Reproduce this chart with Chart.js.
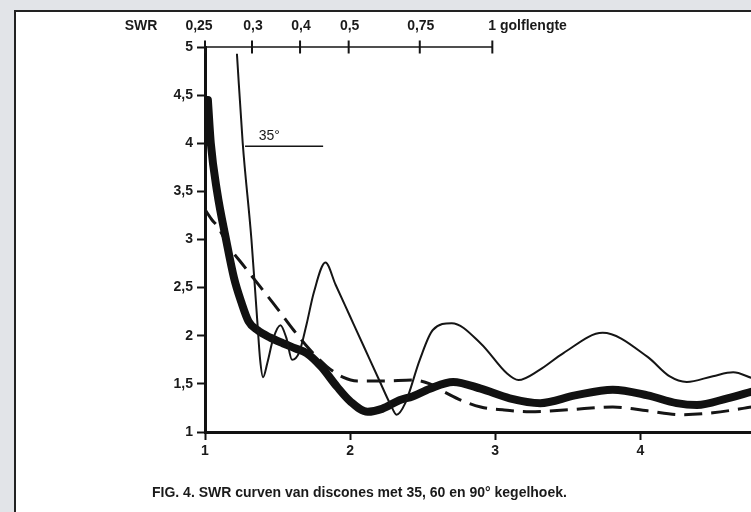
<!DOCTYPE html>
<html>
<head>
<meta charset="utf-8">
<script src="https://cdn.jsdelivr.net/npm/chart.js@4/dist/chart.umd.min.js"></script>
<style>
  body { margin: 0; background: #e2e4e8; overflow: hidden; }
  #frame {
    position: absolute; left: 14px; top: 10px; width: 800px; height: 600px;
    background: #fff; border-left: 2px solid #222; border-top: 2px solid #222;
  }
  #swrChart { position: absolute; left: 0; top: 0; }
</style>
</head>
<body>
<div id="frame"></div>
<canvas id="swrChart" width="760" height="512"></canvas>
<script>
// SWR curves, points are [x, swr]
const swr35 = [
  [1.22, 4.93], [1.26, 4.0], [1.32, 3.0], [1.36, 2.16], [1.38, 1.75], [1.40, 1.57],
  [1.43, 1.72], [1.47, 1.97], [1.52, 2.11], [1.56, 1.98], [1.60, 1.75], [1.65, 1.83],
  [1.70, 2.12], [1.75, 2.45], [1.83, 2.76], [1.9, 2.53], [2.0, 2.2], [2.1, 1.87],
  [2.2, 1.54], [2.28, 1.28], [2.32, 1.18], [2.38, 1.3], [2.48, 1.75], [2.57, 2.06],
  [2.70, 2.13], [2.9, 1.92], [3.08, 1.61], [3.16, 1.54], [3.3, 1.64], [3.47, 1.82],
  [3.74, 2.03], [4.05, 1.78], [4.2, 1.58], [4.32, 1.52], [4.5, 1.58], [4.64, 1.62],
  [4.77, 1.56]
];
const swr60 = [
  [1.02, 4.45], [1.04, 4.0], [1.083, 3.5], [1.145, 3.0], [1.2, 2.6], [1.25, 2.35],
  [1.3, 2.15], [1.36, 2.06], [1.45, 1.98], [1.54, 1.92], [1.62, 1.87], [1.70, 1.82],
  [1.8, 1.68], [1.91, 1.47], [2.0, 1.32], [2.12, 1.21], [2.22, 1.24], [2.34, 1.33],
  [2.43, 1.37], [2.55, 1.45], [2.71, 1.52], [2.9, 1.45], [3.1, 1.35], [3.31, 1.30],
  [3.55, 1.38], [3.81, 1.44], [4.05, 1.38], [4.25, 1.3], [4.39, 1.28], [4.6, 1.35],
  [4.77, 1.42]
];
const swr90 = [
  [1.0, 3.31], [1.05, 3.2], [1.09, 3.13], [1.15, 2.96], [1.27, 2.72], [1.38, 2.51],
  [1.5, 2.28], [1.61, 2.06], [1.72, 1.86], [1.84, 1.68], [1.95, 1.57], [2.05, 1.53],
  [2.23, 1.53], [2.43, 1.54], [2.55, 1.5], [2.62, 1.44], [2.75, 1.34], [2.9, 1.26],
  [3.05, 1.23], [3.24, 1.21], [3.5, 1.23], [3.81, 1.26], [4.05, 1.22], [4.28, 1.18],
  [4.5, 1.2], [4.77, 1.26]
];

// axis ticks
const xTicks = [1, 2, 3, 4];
const yTicks = [1, 1.5, 2, 2.5, 3, 3.5, 4, 4.5, 5];

// wavelength scale on top (positions in x units)
const waveTickPos = [1.0, 1.324, 1.655, 1.99, 2.48, 2.98];
const waveTickLabels = ["0,25", "0,3", "0,4", "0,5", "0,75", "1 golflengte"];

// "35°" marker line
const label35Line = [[1.276, 3.97], [1.814, 3.97]];

const caption = "FIG. 4. SWR curven van discones met 35, 60 en 90° kegelhoek.";
const FONT = "'Liberation Sans', Arial, sans-serif";

function toPoints(arr) {
  return arr.map(p => ({ x: p[0], y: p[1] }));
}

// extra texts: SWR, wavelength labels, 35 degrees, caption
const textPlugin = {
  id: "texts",
  afterDraw(chart) {
    const ctx = chart.ctx;
    const xs = chart.scales.x;
    const ys = chart.scales.y;
    ctx.save();
    ctx.fillStyle = "#1a1a1a";
    ctx.textBaseline = "middle";
    ctx.font = "bold 14px " + FONT;
    ctx.textAlign = "center";
    ctx.fillText("SWR", 141, 26);
    waveTickPos.forEach((v, i) => {
      const px = xs.getPixelForValue(v);
      if (i === waveTickPos.length - 1) {
        ctx.textAlign = "left";
        ctx.fillText(waveTickLabels[i], px - 4, 26);
      } else {
        ctx.textAlign = "center";
        ctx.fillText(waveTickLabels[i], i === 0 ? px - 6 : px + 1, 26);
      }
    });
    ctx.font = "14px " + FONT;
    ctx.textAlign = "left";
    ctx.fillText("35°", xs.getPixelForValue(1.37), ys.getPixelForValue(4.07));
    ctx.font = "bold 14px " + FONT;
    ctx.fillText(caption, 152, 493);
    ctx.restore();
  }
};

const ctx = document.getElementById("swrChart");

// eslint-disable-next-line no-unused-vars
const swrChart = new Chart(ctx, {
  type: "line",
  data: {
    datasets: [
      {
        label: "35°",
        data: toPoints(swr35),
        borderColor: "#151515",
        borderWidth: 2,
        pointRadius: 0,
        cubicInterpolationMode: "monotone"
      },
      {
        label: "60°",
        data: toPoints(swr60),
        borderColor: "#111",
        borderWidth: 8,
        borderCapStyle: "round",
        borderJoinStyle: "round",
        pointRadius: 0,
        cubicInterpolationMode: "monotone"
      },
      {
        label: "90°",
        data: toPoints(swr90),
        borderColor: "#151515",
        borderWidth: 3,
        borderDash: [18, 9],
        pointRadius: 0,
        cubicInterpolationMode: "monotone"
      },
      {
        label: "35 marker",
        data: toPoints(label35Line),
        borderColor: "#151515",
        borderWidth: 1.5,
        pointRadius: 0
      },
      {
        label: "wavelength line",
        data: waveTickPos.map(v => ({ x: v, y: 5 })),
        borderColor: "#151515",
        borderWidth: 1.5,
        pointStyle: "line",
        rotation: 90,
        pointRadius: 6.5,
        pointBorderWidth: 2,
        pointBorderColor: "#151515",
        clip: false
      }
    ]
  },
  options: {
    responsive: false,
    animation: false,
    devicePixelRatio: 1,
    layout: { padding: { top: 47, right: 0, left: 0, bottom: 0 } },
    plugins: {
      legend: { display: false },
      tooltip: { enabled: false }
    },
    scales: {
      x: {
        type: "linear",
        min: 1,
        max: 4.766,
        afterBuildTicks: scale => {
          scale.ticks = xTicks.map(v => ({ value: v }));
        },
        afterFit: scale => {
          scale.height = 80;
        },
        grid: { drawOnChartArea: false, tickLength: 8, tickWidth: 2, color: "#111" },
        border: { display: true, width: 3, color: "#111" },
        ticks: {
          color: "#1a1a1a",
          padding: 3,
          font: { family: FONT, size: 14, weight: "bold" }
        }
      },
      y: {
        type: "linear",
        min: 1,
        max: 5,
        afterBuildTicks: scale => {
          scale.ticks = yTicks.map(v => ({ value: v }));
        },
        afterFit: scale => {
          scale.width = 205;
        },
        grid: { drawOnChartArea: false, tickLength: 8, tickWidth: 2, color: "#111" },
        border: { display: true, width: 3, color: "#111" },
        ticks: {
          color: "#1a1a1a",
          padding: 4,
          font: { family: FONT, size: 14, weight: "bold" },
          callback: v => String(v).replace(".", ",")
        }
      }
    }
  },
  plugins: [textPlugin]
});
</script>
</body>
</html>
